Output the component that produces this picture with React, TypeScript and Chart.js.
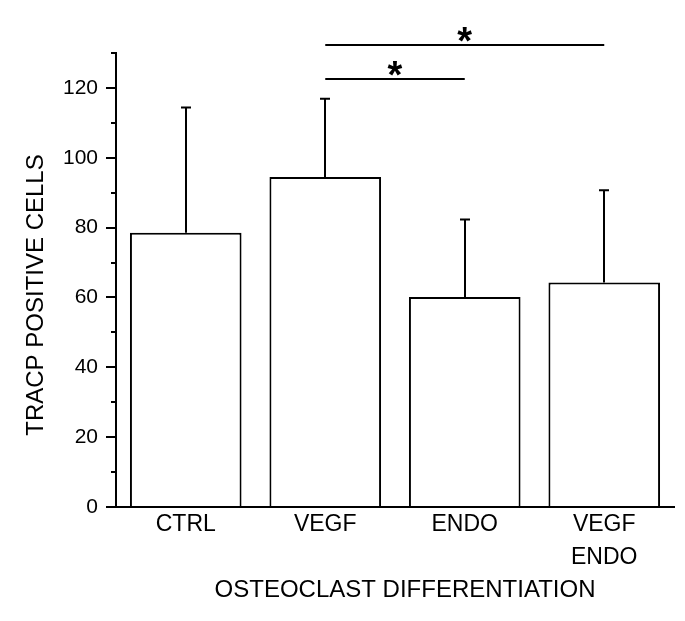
import React, { useEffect, useRef } from "react";
import { Chart, registerables } from "chart.js";

Chart.register(...registerables);

const categories: (string | string[])[] = ["CTRL", "VEGF", "ENDO", ["VEGF", "ENDO"]];
const means = [78.5, 94.5, 60.1, 64.3];
const sdUpper = [35.9, 22.4, 22.2, 26.4];
const yMin = 0;
const yMax = 130;
const yStep = 20;
const minorTickValues = [10, 30, 50, 70, 90, 110, 130];
const sigPairs: [number, number][] = [
  [1, 2],
  [1, 3],
];
const sigLevels = [122.6, 132.3];
const sigLabels = ["*", "*"];
const xTitle = "OSTEOCLAST DIFFERENTIATION";
const yTitle = "TRACP POSITIVE CELLS";

const FONT = '"Liberation Sans", Arial, sans-serif';

const overlayPlugin = {
  id: "overlay",
  afterDatasetsDraw(chart: any) {
    const ctx = chart.ctx;
    const meta = chart.getDatasetMeta(0);
    const y = chart.scales.y;
    ctx.save();
    ctx.strokeStyle = "#000";
    ctx.lineWidth = 2;
    meta.data.forEach((bar: any, i: number) => {
      const x = Math.round(bar.x);
      const yTop = y.getPixelForValue(means[i]);
      const yErr = y.getPixelForValue(means[i] + sdUpper[i]);
      ctx.beginPath();
      ctx.moveTo(x, yTop);
      ctx.lineTo(x, yErr);
      ctx.moveTo(x - 5, yErr);
      ctx.lineTo(x + 5, yErr);
      ctx.stroke();
    });
    ctx.restore();
  },
  afterDraw(chart: any) {
    const ctx = chart.ctx;
    const meta = chart.getDatasetMeta(0);
    const y = chart.scales.y;
    const area = chart.chartArea;
    ctx.save();
    ctx.strokeStyle = "#000";
    ctx.fillStyle = "#000";
    ctx.lineWidth = 2;
    // minor ticks
    minorTickValues.forEach((v) => {
      const py = Math.round(y.getPixelForValue(v));
      ctx.beginPath();
      ctx.moveTo(area.left - 5, py);
      ctx.lineTo(area.left, py);
      ctx.stroke();
    });
    // significance
    sigPairs.forEach(([a, b], k) => {
      const x1 = meta.data[a].x;
      const x2 = meta.data[b].x;
      const py = Math.round(y.getPixelForValue(sigLevels[k]));
      ctx.beginPath();
      ctx.moveTo(x1, py);
      ctx.lineTo(x2, py);
      ctx.stroke();
      ctx.font = "bold 38px " + FONT;
      ctx.textAlign = "center";
      ctx.textBaseline = "alphabetic";
      const m = ctx.measureText(sigLabels[k]);
      const cy = py - 11;
      const base = cy + (m.actualBoundingBoxAscent - m.actualBoundingBoxDescent) / 2;
      ctx.fillText(sigLabels[k], (x1 + x2) / 2, base);
    });
    // axis titles
    ctx.font = "24px " + FONT;
    ctx.textAlign = "center";
    ctx.textBaseline = "middle";
    ctx.fillText(xTitle, (area.left + area.right) / 2 + 10, 590);
    ctx.translate(36, (area.top + area.bottom) / 2 + 15);
    ctx.rotate(-Math.PI / 2);
    ctx.fillText(yTitle, 0, 0);
    ctx.restore();
  },
};

export default function App() {
  const ref = useRef<HTMLCanvasElement>(null);
  useEffect(() => {
    if (!ref.current) return;
    const chart = new Chart(ref.current, {
      type: "bar",
      data: {
        labels: categories as any,
        datasets: [
          {
            data: means,
            backgroundColor: "#ffffff",
            borderColor: "#000000",
            borderWidth: 2,
            barPercentage: 1,
            categoryPercentage: 0.8,
          },
        ],
      },
      options: {
        responsive: false,
        animation: false,
        layout: { padding: { top: 53, right: 11, left: 0, bottom: 0 } },
        plugins: { legend: { display: false }, tooltip: { enabled: false } },
        scales: {
          x: {
            grid: { display: true, drawOnChartArea: false, drawTicks: false },
            border: { color: "#000", width: 2 },
            ticks: {
              color: "#000",
              font: { family: FONT, size: 23, lineHeight: 1.45 },
              padding: 1,
              maxRotation: 0,
              autoSkip: false,
            },
            afterFit: (s: any) => {
              s.height = 114;
            },
          },
          y: {
            min: yMin,
            max: yMax,
            ticks: {
              stepSize: yStep,
              includeBounds: false,
              color: "#000",
              font: { family: FONT, size: 21 },
              padding: 8,
            },
            grid: { drawOnChartArea: false, color: "#000", lineWidth: 2, tickLength: 10 },
            border: { color: "#000", width: 2 },
            afterFit: (s: any) => {
              s.width = 116;
            },
          },
        },
      },
      plugins: [overlayPlugin],
    });
    return () => chart.destroy();
  }, []);
  return (
    <div style={{ position: "absolute", left: 0, top: 0, width: 685, height: 621, background: "#fff" }}>
      <canvas ref={ref} width={685} height={621} />
    </div>
  );
}
